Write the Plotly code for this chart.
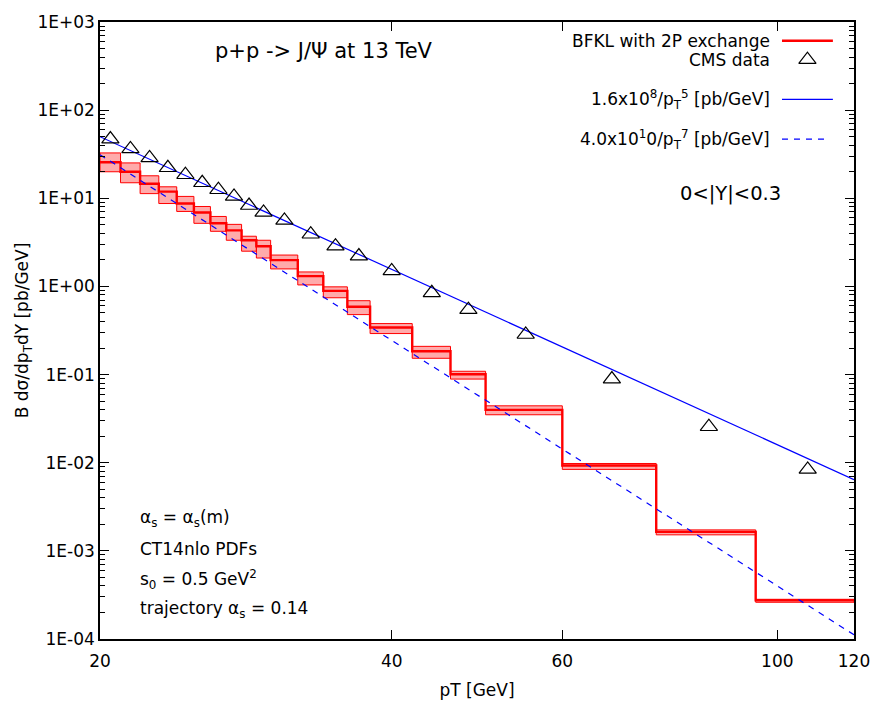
import numpy as np
import plotly.graph_objects as go

# ---------------- data ----------------
bin_edges = [20, 21, 22, 23, 24, 25, 26, 27, 28, 29, 30, 32, 34, 36, 38, 42, 46, 50, 60, 75, 95, 120]
bfkl_central = [25.6, 20.0, 14.6, 11.9, 8.72, 6.91, 5.20, 4.33, 3.34, 2.86, 1.99, 1.31, 0.891,
                0.589, 0.342, 0.184, 0.101, 0.0398, 0.0093, 0.00164, 0.000275]
bfkl_high = [32.7, 25.2, 18.0, 13.5, 10.5, 8.07, 6.22, 5.06, 3.71, 3.34, 2.27, 1.46, 0.989,
             0.689, 0.379, 0.209, 0.109, 0.0442, 0.0098, 0.00173, 0.000282]
bfkl_low = [20.0, 15.0, 11.3, 8.72, 7.09, 5.20, 4.22, 3.34, 2.51, 2.10, 1.58, 1.04, 0.744,
            0.479, 0.292, 0.153, 0.0889, 0.035, 0.0084, 0.00152, 0.000261]

cms_pt = [20.5, 21.5, 22.5, 23.5, 24.5, 25.5, 26.5, 27.5, 28.5, 29.5, 31, 33, 35, 37, 40, 44, 48,
          55, 67.5, 85, 107.5]
cms_val = [47.0, 36.3, 28.7, 22.2, 18.5, 15.0, 12.5, 10.5, 8.28, 6.91, 5.61, 3.91, 2.86, 2.21, 1.50,
           0.847, 0.545, 0.285, 0.0889, 0.0256, 0.0084]

fit5_coef, fit5_pow = 1.6e8, 5
fit7_coef, fit7_pow = 4.0e10, 7
pt_range = [20, 120]

x_tickvals = [20, 40, 60, 100, 120]
y_tickvals = [1e-4, 1e-3, 1e-2, 1e-1, 1e0, 1e1, 1e2, 1e3]
y_ticktext = ["1E-04", "1E-03", "1E-02", "1E-01", "1E+00", "1E+01", "1E+02", "1E+03"]

FONT = "DejaVu Sans"
RED = "#ff0000"
BLUE = "#0000ff"

fig = go.Figure()

# uncertainty boxes
bx, by = [], []
for i in range(len(bfkl_central)):
    lo, hi = bin_edges[i], bin_edges[i + 1]
    bx += [lo, hi, hi, lo, lo, None]
    by += [bfkl_low[i], bfkl_low[i], bfkl_high[i], bfkl_high[i], bfkl_low[i], None]
fig.add_trace(go.Scatter(x=bx, y=by, mode="lines", fill="toself",
                         fillcolor="rgba(255,0,0,0.33)",
                         line=dict(color=RED, width=1), hoverinfo="skip", showlegend=False))

# central step line
fig.add_trace(go.Scatter(x=bin_edges, y=bfkl_central + [bfkl_central[-1]], mode="lines",
                         line=dict(color=RED, width=2.4, shape="hv"), showlegend=False))

# power-law curves
xs = np.array(pt_range, dtype=float)
fig.add_trace(go.Scatter(x=xs, y=fit5_coef / xs ** fit5_pow, mode="lines",
                         line=dict(color=BLUE, width=1.2), showlegend=False))
fig.add_trace(go.Scatter(x=xs, y=fit7_coef / xs ** fit7_pow, mode="lines",
                         line=dict(color=BLUE, width=1.2, dash="6px,6px"), showlegend=False))

# CMS data
fig.add_trace(go.Scatter(x=cms_pt, y=cms_val, mode="markers",
                         marker=dict(symbol="triangle-up-open", size=15, color="black",
                                     line=dict(width=1.2, color="black")),
                         showlegend=False))

# ---- legend samples on an invisible overlay axis ----
lx0, lx1 = 0.9045, 0.972
leg_y = [0.9695, 0.939, 0.8746, 0.8103]
fig.add_trace(go.Scatter(x=[lx0, lx1], y=[leg_y[0]] * 2, mode="lines", xaxis="x2", yaxis="y2",
                         line=dict(color=RED, width=2.4), showlegend=False, hoverinfo="skip"))
fig.add_trace(go.Scatter(x=[(lx0 + lx1) / 2], y=[leg_y[1]], mode="markers", xaxis="x2", yaxis="y2",
                         marker=dict(symbol="triangle-up-open", size=15, color="black",
                                     line=dict(width=1.2, color="black")),
                         showlegend=False, hoverinfo="skip"))
fig.add_trace(go.Scatter(x=[lx0, lx1], y=[leg_y[2]] * 2, mode="lines", xaxis="x2", yaxis="y2",
                         line=dict(color=BLUE, width=1.2), showlegend=False, hoverinfo="skip"))
fig.add_trace(go.Scatter(x=[lx0, lx1 - 0.005], y=[leg_y[3]] * 2, mode="lines", xaxis="x2", yaxis="y2",
                         line=dict(color=BLUE, width=1.2, dash="6px,6px"), showlegend=False,
                         hoverinfo="skip"))

leg_text = ["BFKL with 2P exchange", "CMS data",
            "1.6x10<sup>8</sup>/p<sub>T</sub><sup>5</sup> [pb/GeV]",
            "4.0x10<sup>1</sup>0/p<sub>T</sub><sup>7</sup> [pb/GeV]"]
annotations = []
for t, yy in zip(leg_text, leg_y):
    annotations.append(dict(text=t, x=0.891, y=yy, xref="paper", yref="paper",
                            xanchor="right", yanchor="middle", showarrow=False,
                            font=dict(family=FONT, size=17, color="black")))

annotations.append(dict(text="p+p -> J/Ψ at 13 TeV", x=0.297, y=0.9537, xref="paper", yref="paper",
                        xanchor="center", yanchor="middle", showarrow=False,
                        font=dict(family=FONT, size=21, color="black")))
annotations.append(dict(text="0<|Y|<0.3", x=0.836, y=0.7219, xref="paper", yref="paper",
                        xanchor="center", yanchor="middle", showarrow=False,
                        font=dict(family=FONT, size=19.5, color="black")))

info = ["α<sub>s</sub> = α<sub>s</sub>(m)", "CT14nlo PDFs", "s<sub>0</sub> = 0.5 GeV<sup>2</sup>",
        "trajectory α<sub>s</sub> = 0.14"]
info_y = [0.196, 0.1463, 0.0965, 0.0482]
for t, yy in zip(info, info_y):
    annotations.append(dict(text=t, x=0.0504, y=yy, xref="paper", yref="paper",
                            xanchor="left", yanchor="middle", showarrow=False,
                            font=dict(family=FONT, size=17, color="black")))

minor_y = [k * 10.0 ** e for e in range(-4, 3) for k in range(2, 10)]

fig.update_layout(
    width=886, height=709,
    margin=dict(l=100, r=32, t=22, b=65),
    paper_bgcolor="white", plot_bgcolor="white",
    font=dict(family=FONT, size=17, color="black"),
    showlegend=False,
    annotations=annotations,
    xaxis=dict(type="log", range=[np.log10(20), np.log10(120)],
               tickmode="array", tickvals=x_tickvals, ticktext=[str(v) for v in x_tickvals],
               ticks="inside", ticklen=9, tickwidth=1, tickcolor="black",
               showline=True, linecolor="black", linewidth=1.5, mirror="allticks",
               showgrid=False, zeroline=False, ticklabelstandoff=6,
               tickfont=dict(family=FONT, size=17),
               title=dict(text="pT [GeV]", font=dict(family=FONT, size=17), standoff=14)),
    yaxis=dict(type="log", range=[-4, 3],
               tickmode="array", tickvals=y_tickvals, ticktext=y_ticktext,
               ticks="inside", ticklen=9, tickwidth=1, tickcolor="black",
               minor=dict(tickvals=minor_y, ticks="inside", ticklen=5, tickwidth=1, tickcolor="black",
                          showgrid=False),
               showline=True, linecolor="black", linewidth=1.5, mirror="allticks",
               showgrid=False, zeroline=False, ticklabelstandoff=0,
               tickfont=dict(family=FONT, size=17),
               title=dict(text="B dσ/dp<sub>T</sub>dY [pb/GeV]", font=dict(family=FONT, size=17),
                          standoff=4)),
    xaxis2=dict(overlaying="x", range=[0, 1], visible=False, fixedrange=True),
    yaxis2=dict(overlaying="y", range=[0, 1], visible=False, fixedrange=True),
)

fig.write_html("out.html")
